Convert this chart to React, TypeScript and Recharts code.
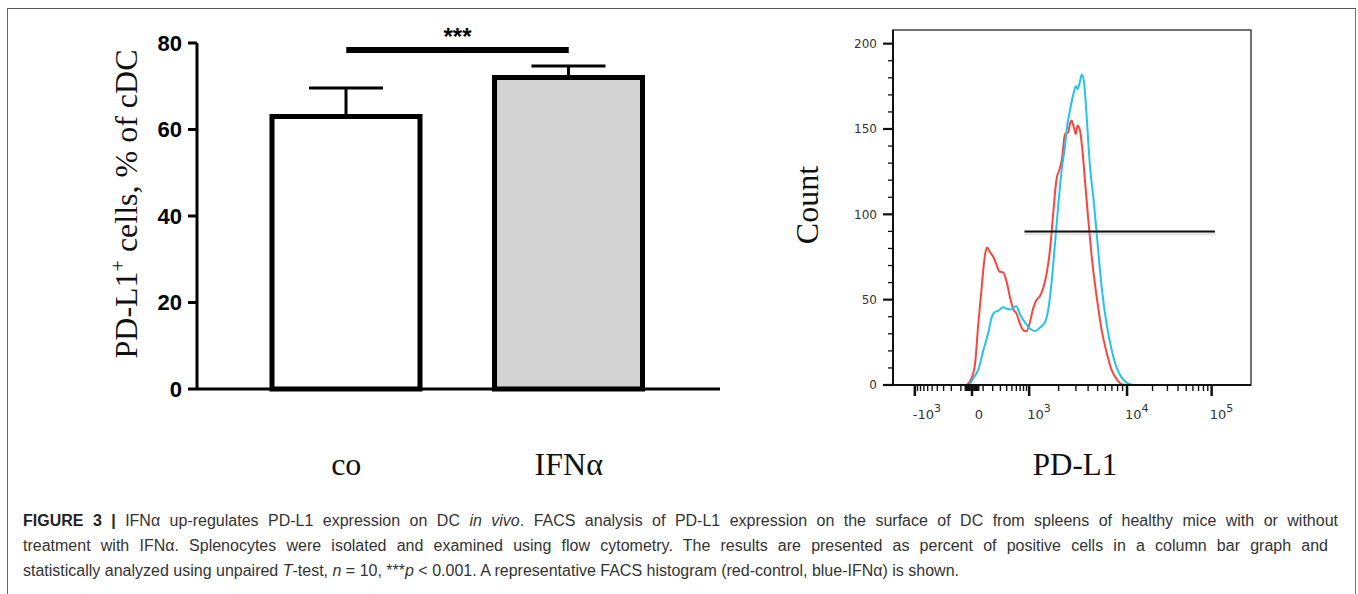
import React from "react"
import {
  Bar,
  BarChart,
  Cell,
  ErrorBar,
  Line,
  LineChart,
  ReferenceArea,
  ReferenceLine,
  XAxis,
  YAxis,
} from "recharts"

// ---- left panel: % PD-L1+ of cDC ----
const groups = ["co", "IFNα"]
const pdl1Percent = [63, 72]
const pdl1Sem = [6.6, 2.7]
const barFills = ["#ffffff", "#d3d3d3"]
const percentTicks = [0, 20, 40, 60, 80]
const significanceLevel = 78.4

// ---- right panel: FACS histogram (x in display channels 0-1024) ----
const redChannel = [
  211, 225, 235, 244, 254, 263, 269, 277, 287, 297, 304, 315, 325, 335, 344, 354, 363, 373, 382, 392, 401, 411,
  420, 430, 440, 449, 458, 468, 475, 483, 492, 501, 506, 511, 516, 523, 528, 535, 542, 549, 559, 568, 583, 597,
  611, 625, 640, 654, 668,
]
const redCount = [
  0, 4, 13, 36, 58, 76, 80.5, 78, 75, 70, 66.5, 66, 60.5, 51, 44.5, 41.5, 36, 32, 31.5, 37, 45, 50, 52, 57, 66,
  79, 100, 121, 125.5, 132, 147, 148, 153, 155, 152, 147, 152, 149, 137, 120, 96, 76, 51, 32, 19, 9, 3.3, 0.5, 0,
]
const blueChannel = [
  218, 230, 244, 258, 273, 282, 289, 301, 315, 330, 340, 352, 363, 378, 392, 406, 420, 435, 444, 454, 463, 473,
  483, 492, 497, 506, 516, 523, 528, 535, 540, 546, 554, 563, 573, 583, 597, 611, 625, 640, 654, 668, 687,
]
const blueCount = [
  0, 4, 9, 20, 31, 39.5, 42.4, 43.5, 45.5, 44.4, 44.4, 46.3, 41.5, 36.5, 33, 31.7, 33.6, 37, 44, 61, 82, 106,
  127, 140, 150, 160.7, 170.5, 175, 173.4, 178, 182, 178, 157, 129, 110, 88, 57, 35.6, 21, 10, 4.3, 1.4, 0,
]
const gateChannel = [376, 921]
const gateCount = 90
const countTicks = [0, 10, 20, 30, 40, 50, 60, 70, 80, 90, 100, 110, 120, 130, 140, 150, 160, 170, 180, 190, 200]
const countLabelTicks = [0, 50, 100, 150, 200]
const pdl1Decades = [-1000, 0, 1000, 10000, 100000]
const pdl1DecadeBase = ["-10", "0", "10", "10", "10"]
const pdl1DecadeExp = ["3", "", "3", "4", "5"]

// biexponential-ish display transform used for the tick positions
function toChannel(v: number) {
  const a = Math.abs(v)
  if (a <= 1000) return 226 + Math.sign(v) * 163.5 * (Math.asinh(a / 230) / Math.asinh(1000 / 230))
  if (a <= 10000) return 389.5 + 280 * Math.log10(a / 1000)
  return 669.5 + 242 * Math.log10(a / 10000)
}

const minorValues: number[] = []
for (let k = 1; k <= 6; k++) minorValues.push(k * 10, -k * 10)
for (let k = 1; k <= 9; k++) minorValues.push(k * 100, -k * 100)
for (let k = 2; k <= 9; k++) minorValues.push(k * 1000, k * 10000)

const majorChannels = pdl1Decades.map(toChannel)
const pdl1Ticks = [...majorChannels, ...minorValues.map(toChannel)].sort((a, b) => a - b)

const barData = groups.map((g, i) => ({ group: g, value: pdl1Percent[i], err: [0, pdl1Sem[i]] }))
const redData = redChannel.map((ch, i) => ({ ch, count: redCount[i] }))
const blueData = blueChannel.map((ch, i) => ({ ch, count: blueCount[i] }))

const SERIF = "'Liberation Serif', 'Times New Roman', serif"
const SANS = "'Liberation Sans', Arial, sans-serif"
const FACS = "'DejaVu Sans', sans-serif"

function GroupTick(props: any) {
  const { x, y, payload } = props
  return (
    <text x={x} y={y + 86} textAnchor="middle" fontFamily={SERIF} fontSize={32} fill="#111">
      {payload.value}
    </text>
  )
}

function PercentLabel() {
  const x = 137
  const cy = 204
  return (
    <text x={x} y={cy} transform={`rotate(-90, ${x}, ${cy})`} textAnchor="middle" fontFamily={SERIF} fontSize={32} fill="#111">
      PD-L1
      <tspan dy={-12} fontSize={20}>
        +
      </tspan>
      <tspan dy={12}> cells, % of cDC</tspan>
    </text>
  )
}

function CountTick(props: any) {
  const { x, y, payload } = props
  const major = countLabelTicks.includes(payload.value)
  return (
    <g>
      <line x1={x - (major ? 10 : 5)} x2={x} y1={y} y2={y} stroke="#111" strokeWidth={major ? 2.2 : 1.3} />
      {major && (
        <text x={x - 16} y={y} dy="0.36em" textAnchor="end" fontFamily={FACS} fontSize={12} fill="#333">
          {payload.value}
        </text>
      )}
    </g>
  )
}

function Pdl1Tick(props: any) {
  const { x, y, payload } = props
  const idx = majorChannels.findIndex((c) => Math.abs(c - payload.value) < 0.01)
  const major = idx >= 0
  return (
    <g>
      <line x1={x} x2={x} y1={y} y2={y + (major ? 11 : 6)} stroke="#111" strokeWidth={major ? 2.5 : 1.4} />
      {major && (
        <text
          x={pdl1DecadeExp[idx] ? x - 2 : x + 7}
          y={y + 34}
          textAnchor={pdl1DecadeExp[idx] ? "start" : "middle"}
          fontFamily={FACS}
          fontSize={13}
          fill="#333"
        >
          {pdl1DecadeBase[idx]}
          {pdl1DecadeExp[idx] && (
            <tspan dy={-7} fontSize={11}>
              {pdl1DecadeExp[idx]}
            </tspan>
          )}
        </text>
      )}
    </g>
  )
}

function CountLabel() {
  const x = 58
  const cy = 205
  return (
    <text x={x} y={cy} transform={`rotate(-90, ${x}, ${cy})`} textAnchor="middle" fontFamily={SERIF} fontSize={32} fill="#111">
      Count
    </text>
  )
}

function Pdl1Label() {
  return (
    <text x={315} y={475} textAnchor="middle" fontFamily={SERIF} fontSize={31} fill="#111">
      PD-L1
    </text>
  )
}

const captionLine = (width: number, stretch: boolean): React.CSSProperties => ({
  width,
  height: 25,
  textAlign: stretch ? "justify" : "left",
  textAlignLast: stretch ? "justify" : "left",
})

export default function App() {
  return (
    <div style={{ position: "absolute", left: 0, top: 0, width: 1358, height: 594, background: "#fff", overflow: "hidden" }}>
      <div
        style={{
          position: "absolute",
          left: 7,
          top: 8,
          width: 1347,
          height: 600,
          borderLeft: "1px solid #666",
          borderTop: "1px solid #555",
          borderRight: "1px solid #777",
        }}
      />

      <div style={{ position: "absolute", left: 0, top: 0 }}>
        <BarChart width={760} height={500} data={barData} margin={{ top: 43, right: 40, left: 97, bottom: 11 }}>
          <XAxis
            dataKey="group"
            height={100}
            padding={{ left: 38, right: 40 }}
            axisLine={{ stroke: "#000", strokeWidth: 3 }}
            tickLine={false}
            tickSize={0}
            tickMargin={0}
            tick={<GroupTick />}
          />
          <YAxis
            width={100}
            domain={[0, 80]}
            ticks={percentTicks}
            axisLine={{ stroke: "#000", strokeWidth: 3 }}
            tickLine={{ stroke: "#000", strokeWidth: 3 }}
            tickSize={9}
            tickMargin={6}
            tick={{ fill: "#000", fontSize: 22, fontWeight: 700, fontFamily: SANS }}
            label={PercentLabel}
          />
          <Bar dataKey="value" barSize={148} stroke="#000" strokeWidth={5} isAnimationActive={false}>
            {barData.map((d, i) => (
              <Cell key={d.group} fill={barFills[i]} />
            ))}
            <ErrorBar dataKey="err" width={37} strokeWidth={3} stroke="#000" direction="y" />
          </Bar>
          <ReferenceLine
            segment={[
              { x: groups[0], y: significanceLevel },
              { x: groups[1], y: significanceLevel },
            ]}
            stroke="#000"
            strokeWidth={6}
            label={{ value: "***", position: "top", offset: 5, fill: "#000", fontSize: 24, fontWeight: 700, fontFamily: SANS }}
          />
        </BarChart>
      </div>

      <div style={{ position: "absolute", left: 760, top: 0 }}>
        <LineChart width={520} height={500} margin={{ top: 30, right: 29, left: 73, bottom: 55 }}>
          <XAxis
            type="number"
            dataKey="ch"
            domain={[0, 1024]}
            allowDataOverflow
            ticks={pdl1Ticks}
            interval={0}
            height={60}
            axisLine={{ stroke: "#111", strokeWidth: 2 }}
            tickLine={false}
            tickSize={0}
            tickMargin={0}
            tick={<Pdl1Tick />}
            label={Pdl1Label}
          />
          <YAxis
            type="number"
            domain={[0, 208]}
            allowDataOverflow
            ticks={countTicks}
            interval={0}
            width={60}
            axisLine={{ stroke: "#111", strokeWidth: 2 }}
            tickLine={false}
            tickSize={0}
            tickMargin={0}
            tick={<CountTick />}
            label={CountLabel}
          />
          <ReferenceArea x1={0} x2={1024} y1={0} y2={208} fill="none" stroke="#444" strokeWidth={1.5} />
          <Line data={redData} dataKey="count" type="monotone" stroke="#f8463f" strokeWidth={2} dot={false} isAnimationActive={false} />
          <Line data={blueData} dataKey="count" type="monotone" stroke="#22c3ee" strokeWidth={2} dot={false} isAnimationActive={false} />
          <ReferenceLine
            segment={[
              { x: gateChannel[0], y: gateCount - 1.3 },
              { x: gateChannel[1], y: gateCount - 1.3 },
            ]}
            stroke="#bbb"
            strokeOpacity={0.35}
            strokeWidth={4}
          />
          <ReferenceLine
            segment={[
              { x: gateChannel[0], y: gateCount },
              { x: gateChannel[1], y: gateCount },
            ]}
            stroke="#111"
            strokeWidth={2}
          />
        </LineChart>
      </div>

      <div
        style={{
          position: "absolute",
          left: 23,
          top: 508,
          fontFamily: SANS,
          fontSize: 16,
          lineHeight: "25px",
          color: "#333",
        }}
      >
        <div style={captionLine(1315, true)}>
          <b style={{ color: "#222" }}>FIGURE 3 |</b> IFNα up-regulates PD-L1 expression on DC <i>in vivo</i>. FACS analysis
          of PD-L1 expression on the surface of DC from spleens of healthy mice with or without
        </div>
        <div style={captionLine(1305, true)}>
          treatment with IFNα. Splenocytes were isolated and examined using flow cytometry. The results are presented as
          percent of positive cells in a column bar graph and
        </div>
        <div style={captionLine(1315, false)}>
          statistically analyzed using unpaired <i>T</i>-test, <i>n</i> = 10, ***<i>p</i> &lt; 0.001. A representative FACS
          histogram (red-control, blue-IFNα) is shown.
        </div>
      </div>
    </div>
  )
}
